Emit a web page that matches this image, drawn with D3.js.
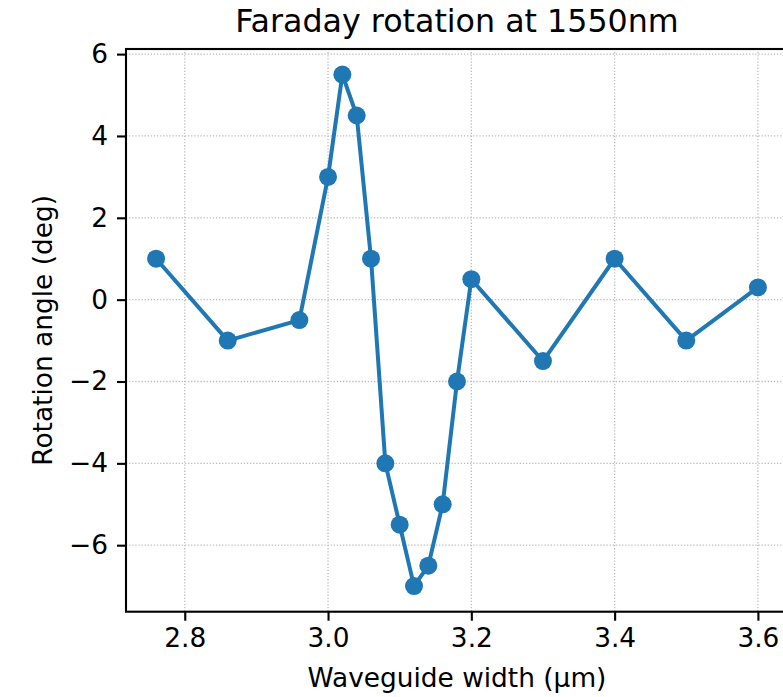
<!DOCTYPE html>
<html>
<head>
<meta charset="utf-8">
<script src="https://cdn.jsdelivr.net/npm/d3@7"></script>
<style>
  body { margin: 0; background: #fff; }
  svg { display: block; font-family: "DejaVu Sans", sans-serif; }
</style>
</head>
<body>
<script>
// data
const widths = [2.76, 2.86, 2.96, 3.00, 3.02, 3.04, 3.06, 3.08, 3.10, 3.12, 3.14, 3.16, 3.18, 3.20, 3.30, 3.40, 3.50, 3.60];
const angles = [1, -1, -0.5, 3, 5.5, 4.5, 1, -4, -5.5, -7, -6.5, -5, -2, 0.5, -1.5, 1, -1, 0.3];
const xTicks = [2.8, 3.0, 3.2, 3.4, 3.6];
const yTicks = [-6, -4, -2, 0, 2, 4, 6];

const W = 783, H = 697;
const pLeft = 126, pRight = 788, pTop = 49, pBottom = 611.7;

const svg = d3.select("body").append("svg").attr("width", W).attr("height", H);

// marges de 5% comme matplotlib
const xMin = d3.min(widths), xMax = d3.max(widths);
const yMin = d3.min(angles), yMax = d3.max(angles);
const xPad = (xMax - xMin) * 0.05, yPad = (yMax - yMin) * 0.05;

const x = d3.scaleLinear().domain([xMin - xPad, xMax + xPad]).range([pLeft, pRight]);
const y = d3.scaleLinear().domain([yMin - yPad, yMax + yPad]).range([pBottom, pTop]);

//grille
const grid = svg.append("g").attr("stroke", "#bdbdbd").attr("stroke-width", 1.3).attr("stroke-dasharray", "1.3,1.8");
grid.selectAll(".gx").data(xTicks).enter().append("line")
  .attr("x1", d => x(d)).attr("x2", d => x(d)).attr("y1", pTop).attr("y2", pBottom);
grid.selectAll(".gy").data(yTicks).enter().append("line")
  .attr("x1", pLeft).attr("x2", pRight).attr("y1", d => y(d)).attr("y2", d => y(d));

// axes
const fmtX = d3.format(".1f");
const fmtY = d => (d < 0 ? "\u2212" + Math.abs(d) : "" + d);

const xAxis = svg.append("g").attr("transform", `translate(0,${pBottom})`)
  .call(d3.axisBottom(x).tickValues(xTicks).tickFormat(fmtX).tickSize(9).tickPadding(8));
const yAxis = svg.append("g").attr("transform", `translate(${pLeft},0)`)
  .call(d3.axisLeft(y).tickValues(yTicks).tickFormat(fmtY).tickSize(9).tickPadding(9));

[xAxis, yAxis].forEach(a => {
  a.select(".domain").remove();
  a.selectAll(".tick line").attr("stroke", "#000").attr("stroke-width", 2.1);
  a.selectAll(".tick text").attr("fill", "#000").style("font-size", "26.4px").style("font-family", "DejaVu Sans");
});

// cadre
svg.append("rect").attr("x", pLeft).attr("y", pTop).attr("width", pRight - pLeft).attr("height", pBottom - pTop)
  .attr("fill", "none").attr("stroke", "#000").attr("stroke-width", 2.1);

// ligne + points
const line = d3.line().x((d, i) => x(widths[i])).y(d => y(d));
svg.append("path").datum(angles).attr("d", line)
  .attr("fill", "none").attr("stroke", "#1f77b4").attr("stroke-width", 4).attr("stroke-linejoin", "round");

svg.selectAll("circle").data(angles).enter().append("circle")
  .attr("cx", (d, i) => x(widths[i])).attr("cy", d => y(d)).attr("r", 9).attr("fill", "#1f77b4");

// textes
svg.append("text").text("Faraday rotation at 1550nm")
  .attr("x", (pLeft + pRight) / 2).attr("y", 32).attr("text-anchor", "middle").style("font-size", "31.7px");
svg.append("text").text("Waveguide width (\u00b5m)")
  .attr("x", (pLeft + pRight) / 2).attr("y", 687).attr("text-anchor", "middle").style("font-size", "26.4px");
svg.append("text").text("Rotation angle (deg)")
  .attr("transform", `translate(52,${(pTop + pBottom) / 2}) rotate(-90)`).attr("text-anchor", "middle").style("font-size", "26.4px");
</script>
</body>
</html>
